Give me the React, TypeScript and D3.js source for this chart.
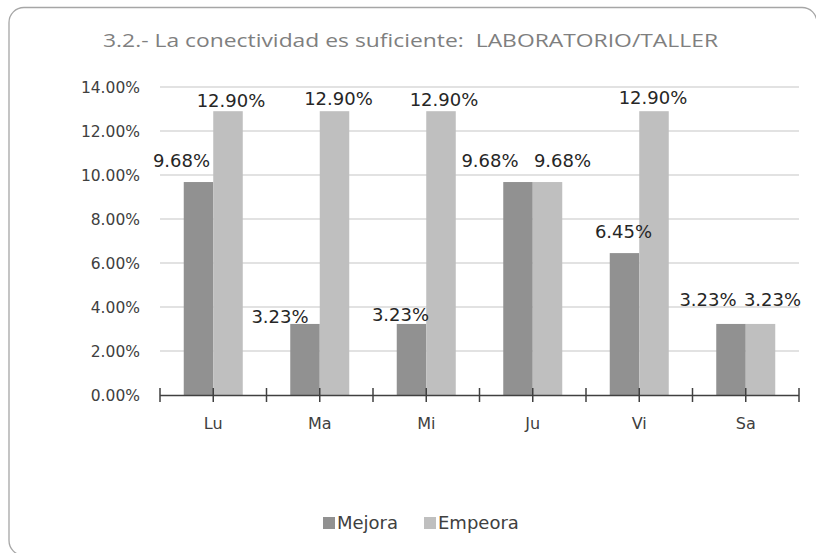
import React from "react";
import * as d3 from "d3";

const categories = ["Lu", "Ma", "Mi", "Ju", "Vi", "Sa"];
const seriesNames = ["Mejora", "Empeora"];
const mejora = [0.0968, 0.0323, 0.0323, 0.0968, 0.0645, 0.0323];
const empeora = [0.129, 0.129, 0.129, 0.0968, 0.129, 0.0323];
const yTicks = [0, 0.02, 0.04, 0.06, 0.08, 0.1, 0.12, 0.14];
const title = "3.2.- La conectividad es suficiente:  LABORATORIO/TALLER";

// label nudges (dx, dy of label centre relative to bar centre / bar top)
const nudgeMejora = [[-17, -22], [-25, -7], [-11, -9], [-28, -22], [-1, -22], [-23, -24]];
const nudgeEmpeora = [[3, -11], [4, -13], [3, -12], [15, -22], [-1, -14], [12, -24]];

const W = 816;
const H = 553;
const colors = ["#919191", "#bfbfbf"];
const font = "'DejaVu Sans', Verdana, sans-serif";

export default function App() {
  const x0 = d3.scaleBand<string>().domain(categories).range([160, 799]).padding(0);
  const bw = x0.bandwidth();
  const x1 = d3.scaleBand<string>().domain(seriesNames).range([(bw - 59) / 2, (bw + 59) / 2]).padding(0);
  const y = d3.scaleLinear().domain([0, 0.14]).range([395, 87]);
  const fmt = d3.format(".2%");
  const data = [mejora, empeora];
  const nudges = [nudgeMejora, nudgeEmpeora];
  const axisTicks: number[] = [];
  categories.forEach((c) => {
    axisTicks.push(x0(c)!);
    axisTicks.push(x0(c)! + bw / 2);
  });
  axisTicks.push(799);

  return (
    <svg width={W} height={H} style={{ position: "absolute", left: 0, top: 0, overflow: "hidden" }}>
      <rect x={0} y={0} width={W} height={H} fill="#fff" />
      <path
        d={`M80,555.5 L24,555.5 A15,15 0 0 1 9,540.5 L9,22.5 A15,15 0 0 1 24,7.5 L802,7.5 A15,15 0 0 1 817,22.5`}
        fill="none"
        stroke="#a6a6a6"
        strokeWidth={1.3}
      />
      <text x={103} y={47} fontFamily="'Open Sans', sans-serif" fontSize={19} fill="#7f7f7f" textLength={615} lengthAdjust="spacingAndGlyphs" style={{ whiteSpace: "pre" }}>
        {title}
      </text>
      {yTicks.map((t) => (
        <g key={t}>
          {t > 0 && <line x1={160} x2={799} y1={y(t)} y2={y(t)} stroke="#d9d9d9" strokeWidth={1.3} />}
          <text x={140} y={y(t)} dy="0.36em" textAnchor="end" fontFamily={font} fontSize={15.5} fill="#404040">
            {fmt(t)}
          </text>
        </g>
      ))}
      {categories.map((c, i) =>
        seriesNames.map((s, j) => {
          const v = data[j][i];
          const bx = x0(c)! + x1(s)!;
          return (
            <rect key={c + s} x={bx} y={y(v)} width={x1.bandwidth()} height={y(0) - y(v)} fill={colors[j]} />
          );
        })
      )}
      <line x1={160} x2={799} y1={395.5} y2={395.5} stroke="#404040" strokeWidth={1.5} />
      {axisTicks.map((t, i) => (
        <line key={i} x1={t} x2={t} y1={388} y2={402} stroke="#404040" strokeWidth={1.5} />
      ))}
      {categories.map((c) => (
        <text key={c} x={x0(c)! + bw / 2} y={423} dy="0.36em" textAnchor="middle" fontFamily={font} fontSize={16} fill="#404040">
          {c}
        </text>
      ))}
      {categories.map((c, i) =>
        seriesNames.map((s, j) => {
          const v = data[j][i];
          const cx = x0(c)! + x1(s)! + x1.bandwidth() / 2 + nudges[j][i][0];
          const cy = y(v) + nudges[j][i][1];
          return (
            <text key={"l" + c + s} x={cx} y={cy} dy="0.36em" textAnchor="middle" fontFamily={font} fontSize={18} fill="#262626">
              {fmt(v)}
            </text>
          );
        })
      )}
      {seriesNames.map((s, j) => {
        const lx = [323, 424][j];
        return (
          <g key={s}>
            <rect x={lx} y={517} width={12} height={12} fill={colors[j]} />
            <text x={lx + 14} y={523} dy="0.36em" fontFamily={font} fontSize={18} fill="#404040">
              {s}
            </text>
          </g>
        );
      })}
    </svg>
  );
}
